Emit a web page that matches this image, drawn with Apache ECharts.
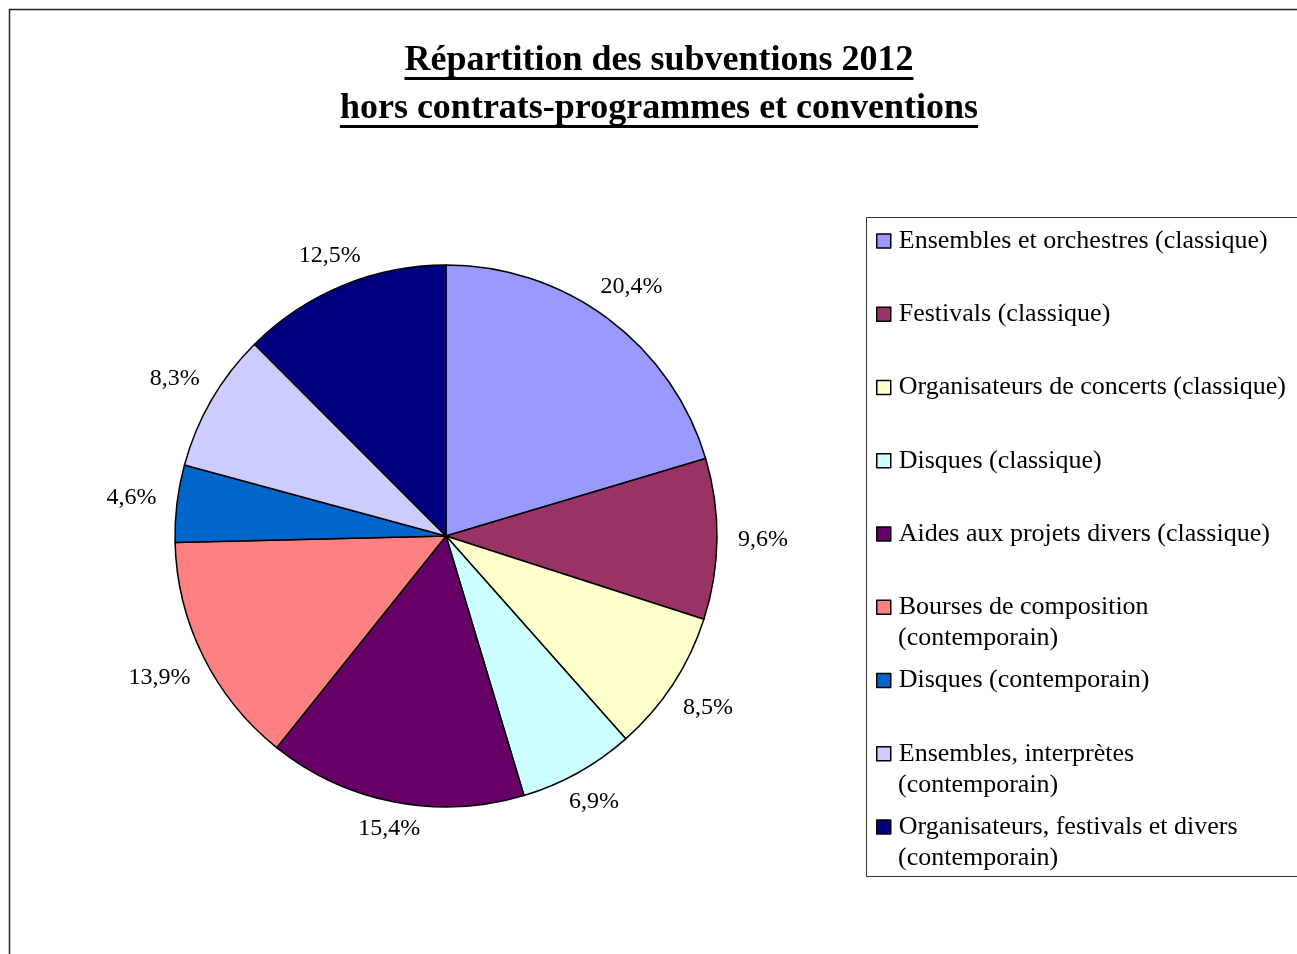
<!DOCTYPE html>
<html><head><meta charset="utf-8">
<script src="https://cdn.jsdelivr.net/npm/echarts@6/dist/echarts.min.js"></script>
<style>html,body{margin:0;padding:0;background:#fff}#c{width:1297px;height:954px}</style>
</head><body><div id="c"></div>
<script>
const TITLE_LINES = ['Répartition des subventions 2012', 'hors contrats-programmes et conventions'];
const CATEGORIES = [
  'Ensembles et orchestres (classique)',
  'Festivals (classique)',
  'Organisateurs de concerts (classique)',
  'Disques (classique)',
  'Aides aux projets divers (classique)',
  'Bourses de composition (contemporain)',
  'Disques (contemporain)',
  'Ensembles, interprètes (contemporain)',
  'Organisateurs, festivals et divers (contemporain)'
];
const LEGEND_LINES = [
  ['Ensembles et orchestres (classique)'],
  ['Festivals (classique)'],
  ['Organisateurs de concerts (classique)'],
  ['Disques (classique)'],
  ['Aides aux projets divers (classique)'],
  ['Bourses de composition', '(contemporain)'],
  ['Disques (contemporain)'],
  ['Ensembles, interprètes', '(contemporain)'],
  ['Organisateurs, festivals et divers', '(contemporain)']
];
const VALUES = [20.4, 9.6, 8.5, 6.9, 15.4, 13.9, 4.6, 8.3, 12.5];
const COLORS = ['#9999FF', '#993366', '#FFFFCC', '#CCFFFF', '#660066', '#FF8080', '#0066CC', '#CCCCFF', '#000080'];

const FONT = '"Liberation Serif", "Times New Roman", serif';
const CX = 446, CY = 536, R = 271;
const LABEL_GAP = 9, LABEL_FS = 24;
const LEG_X = 876, LEG_Y0 = 241, LEG_STEP = 73.25, LEG_FS = 26, LEG_LINE2 = 31, LEG_TEXT_PAD = 3;
const TITLE_X = 659, TITLE_Y = [61, 109], TITLE_FS = 36, UNDERLINE_Y = [77, 125];

const total = VALUES.reduce((a, b) => a + b, 0);
const cum = []; let acc = 0; VALUES.forEach(v => { cum.push(acc); acc += v; });

const ctx = document.createElement('canvas').getContext('2d');
ctx.font = 'bold ' + TITLE_FS + 'px ' + FONT;
const titleWidths = TITLE_LINES.map(t => ctx.measureText(t).width);

const graphics = [
  { type: 'rect', shape: { x: 9.5, y: 9.5, width: 1400, height: 1000 }, style: { fill: 'none', stroke: '#222', lineWidth: 1.5 }, silent: true },
  { type: 'rect', shape: { x: 866.5, y: 217.5, width: 600, height: 659 }, style: { fill: '#fff', stroke: '#333', lineWidth: 1 }, silent: true, z: -1 }
];
TITLE_LINES.forEach((t, i) => {
  graphics.push({ type: 'text', x: TITLE_X, y: TITLE_Y[i], style: { text: t, font: 'bold ' + TITLE_FS + 'px ' + FONT, fill: '#000', align: 'center', verticalAlign: 'middle', textAlign: 'center', textVerticalAlign: 'middle' } });
  graphics.push({ type: 'rect', shape: { x: TITLE_X - titleWidths[i] / 2, y: UNDERLINE_Y[i], width: titleWidths[i], height: 3 }, style: { fill: '#000' } });
});
LEGEND_LINES.forEach((lines, i) => {
  if (lines.length > 1) {
    graphics.push({ type: 'text', x: LEG_X + 14 + 5 + LEG_TEXT_PAD, y: LEG_Y0 + i * LEG_STEP + LEG_LINE2, style: { text: lines[1], font: LEG_FS + 'px ' + FONT, fill: '#000', align: 'left', verticalAlign: 'middle', textAlign: 'left', textVerticalAlign: 'middle' } });
  }
});

const chart = echarts.init(document.getElementById('c'), null, { renderer: 'canvas' });
chart.setOption({
  animation: false,
  backgroundColor: '#fff',
  graphic: { elements: graphics },
  legend: CATEGORIES.map((name, i) => ({
    data: [name],
    left: LEG_X,
    top: LEG_Y0 + i * LEG_STEP - LEG_FS / 2,
    orient: 'vertical',
    padding: 0,
    itemWidth: 14,
    itemHeight: 14,
    itemGap: 0,
    icon: 'rect',
    selectedMode: false,
    itemStyle: { borderColor: '#000', borderWidth: 1.5 },
    textStyle: { fontFamily: FONT, fontSize: LEG_FS, lineHeight: LEG_FS, color: '#000', padding: [0, 0, 0, LEG_TEXT_PAD] },
    formatter: () => LEGEND_LINES[i][0]
  })),
  series: [{
    type: 'pie',
    center: [CX, CY],
    radius: R,
    startAngle: 90,
    clockwise: true,
    avoidLabelOverlap: false,
    silent: true,
    data: CATEGORIES.map((name, i) => ({ name, value: VALUES[i], itemStyle: { color: COLORS[i] } })),
    itemStyle: { borderColor: '#000', borderWidth: 1.5 },
    label: {
      show: true,
      position: 'outside',
      fontFamily: FONT,
      fontSize: LABEL_FS,
      color: '#000',
      formatter: p => p.value.toFixed(1).replace('.', ',') + '%'
    },
    labelLine: { show: false },
    labelLayout: p => {
      const i = p.dataIndex;
      const a = (cum[i] + VALUES[i] / 2) / total * 2 * Math.PI;
      const dx = Math.sin(a), dy = -Math.cos(a);
      const hw = p.labelRect.width / 2, hh = p.labelRect.height / 2;
      const d = R + LABEL_GAP + hh + hw * Math.abs(dx);
      return { x: CX + dx * d, y: CY + dy * d, align: 'center', verticalAlign: 'middle' };
    }
  }]
});
</script></body></html>
